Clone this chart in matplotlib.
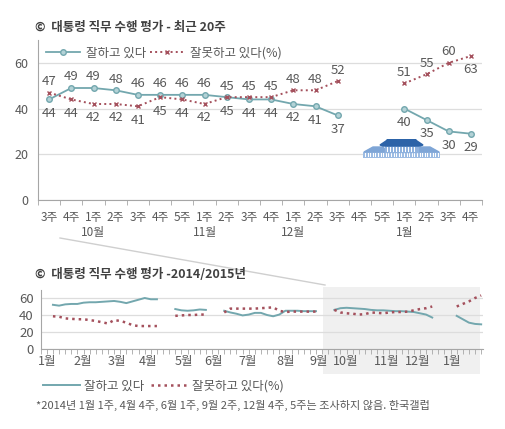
import numpy as np
import matplotlib
matplotlib.use('Agg')
import matplotlib.pyplot as plt
from matplotlib.patches import Polygon, Rectangle
from matplotlib.lines import Line2D

plt.rcParams['font.family'] = ['Noto Sans CJK KR', 'DejaVu Sans']

nan = np.nan

# 최근 20주
weeks = ['3주', '4주', '1주', '2주', '3주', '4주', '5주', '1주', '2주', '3주',
         '4주', '1주', '2주', '3주', '4주', '5주', '1주', '2주', '3주', '4주']
months_top = ['10월', '11월', '12월', '1월']
months_top_at = [2, 7, 11, 16]
good = [44, 49, 49, 48, 46, 46, 46, 46, 45, 44, 44, 42, 41, 37, nan, nan, 40, 35, 30, 29]
bad = [47, 44, 42, 42, 41, 45, 44, 42, 45, 45, 45, 48, 48, 52, nan, nan, 51, 55, 60, 63]
# 라벨 위치: 1 = 위, -1 = 아래
good_pos = [-1, 1, 1, 1, 1, 1, 1, 1, 1, -1, -1, -1, -1, -1, 0, 0, -1, -1, -1, -1]
bad_pos = [1, -1, -1, -1, -1, -1, -1, -1, -1, 1, 1, 1, 1, 1, 0, 0, 1, 1, 1, -1]

# 2014/2015 주간 (눈금 단위)
good_wk = [nan, nan,
           52, 51, 52.5, 53, 53, 54.5, 55, 55, 55.5, 56, 56.5, 55.5, 54, 56, 58, 60, 58.5, 58.5,
           nan, nan,
           47, 45.5, 45, 45.5, 46.5, 46,
           nan, nan,
           45, 43, 41.5, 39.5, 40.5, 42.5, 42.5, 40, 38.5, 40.5, 45, 45, 45, 44.5, 44.5, 44.5,
           nan, nan,
           46, 48, 48.5, 48, 47.5, 47, 46, 45.5, 45.5, 45, 44.5, 44.5, 44, 43.5, 42, 40.5, 37,
           nan, nan, nan,
           39, 35, 31, 29.5, 29]
bad_wk = [nan, nan,
          38.5, 38, 36, 35.5, 35, 35, 34, 33, 31.5, 30, 34, 33, 31, 28, 27, 27, 27, 27,
          nan, nan,
          39, 39.5, 40, 40, 40.5, 40.5,
          nan, nan,
          43, 47.5, 47.5, 47.5, 47.5, 47.5, 48, 48.5, 49, 45, 43.5, 44, 44, 44, 44, 44,
          nan, nan,
          46, 43, 42, 41.5, 40.5, 41, 43, 42.5, 42, 43, 43.5, 43.5, 44, 45.5, 47, 48, 50,
          nan, nan, nan,
          50, 53, 56, 60, 63]
months_bot = ['1월', '2월', '3월', '4월', '5월', '6월', '7월', '8월', '9월',
              '10월', '11월', '12월', '1월']
months_bot_at = [1.1, 6.8, 12.5, 17.5, 23.4, 28.3, 33.9, 40.1, 45.5, 49.9, 56.6, 61.6, 67.2]
shade_span = (46.2, 71.8)

TEAL = '#73A7AE'
RED = '#A4505C'
GRAY = '#595959'
GRID = '#DDDDDD'

W, H = 505, 429
fig = plt.figure(figsize=(W / 100, H / 100), dpi=100)


def fbox(x0, y0, x1, y1):
    return [x0 / W, 1 - y1 / H, (x1 - x0) / W, (y1 - y0) / H]


# ---------- 위 차트 ----------
ax = fig.add_axes(fbox(38, 40, 482, 200))
x = np.arange(len(weeks))
ax.plot(x, good, color=TEAL, lw=1.3, marker='o', ms=4, mfc='#B3D2D6', mec=TEAL,
        mew=1, label='잘하고 있다', zorder=3)
ax.plot(x, bad, color=RED, lw=1.4, ls=':', marker='x', ms=3.5, mew=1,
        label='잘못하고 있다(%)', zorder=3)
for i in range(len(weeks)):
    for vals, pos in ((good, good_pos), (bad, bad_pos)):
        v = vals[i]
        if np.isnan(v):
            continue
        off = 8 if pos[i] > 0 else -10
        ax.annotate(f'{v:.0f}', (i, v), xytext=(0, off), textcoords='offset points',
                    ha='center', va='center', fontsize=9.5, color=GRAY)
ax.set_xlim(-0.5, len(weeks) - 0.5)
ax.set_ylim(0, 70)
ax.set_yticks([0, 20, 40, 60])
ax.grid(axis='y', color=GRID, lw=0.9)
ax.set_axisbelow(True)
ax.set_xticks(x)
ax.set_xticklabels(weeks)
ax.set_xticks(np.arange(-0.5, len(weeks)), minor=True)
ax.tick_params(axis='x', which='major', length=0, pad=8, labelsize=8.5, labelcolor=GRAY)
ax.tick_params(axis='x', which='minor', length=3.5, color='#A6A6A6')
ax.tick_params(axis='y', length=0, pad=7, labelsize=9, labelcolor=GRAY)
for s in ['top', 'right']:
    ax.spines[s].set_visible(False)
for s in ['left', 'bottom']:
    ax.spines[s].set_color('#A6A6A6')
for m, p in zip(months_top, months_top_at):
    ax.text(p, -0.205, m, transform=ax.get_xaxis_transform(), ha='center', va='center',
            fontsize=8.5, color=GRAY)
fig.legend(handles=ax.get_lines(), loc='center left',
           bbox_to_anchor=(40 / W, 1 - 53 / H), ncol=2, frameon=False, fontsize=9,
           handlelength=2.7, handletextpad=0.5, columnspacing=0.3, borderpad=0,
           labelcolor=GRAY)
fig.text(35 / W, 1 - 27 / H, '©  대통령 직무 수행 평가 - 최근 20주', fontsize=9,
         fontweight='bold', color='#404040', va='center')

# 청와대 아이콘
ic = fig.add_axes(fbox(363, 139, 440, 158))
ic.set_xlim(0, 77)
ic.set_ylim(0, 19)
ic.axis('off')
ic.add_patch(Rectangle((0, 0), 77, 6, color='#9DBCE3'))
for cx in np.arange(2, 76, 2.6):
    ic.add_patch(Rectangle((cx, 1), 0.9, 4, color='white', lw=0))
ic.add_patch(Polygon([(1, 6), (10, 11), (20, 11), (24, 6)], color='#7EA5D6'))
ic.add_patch(Polygon([(53, 6), (57, 11), (67, 11), (76, 6)], color='#7EA5D6'))
ic.add_patch(Rectangle((22, 6), 33, 6, color='#8FB2DE'))
for cx in np.arange(24, 54, 3):
    ic.add_patch(Rectangle((cx, 6.5), 1, 4.5, color='white', lw=0))
ic.add_patch(Polygon([(17, 13), (20, 12), (57, 12), (60, 13), (54, 17), (52, 19),
                      (25, 19), (23, 17)], color='#2C63A8'))

# 연결선
fig.add_artist(Line2D([60 / W, 325 / W], [1 - 238 / H, 1 - 285 / H], color='#CFCFCF', lw=1))

# ---------- 아래 차트 ----------
bx = fig.add_axes(fbox(40.7, 289.5, 483, 349))
xw = np.arange(len(good_wk))
bx.axvspan(shade_span[0], shade_span[1], ymin=-0.42, ymax=1.04, color='#F0F0F0',
           clip_on=False, zorder=0, lw=0)
bx.plot(xw, good_wk, color=TEAL, lw=1.4, zorder=3, label='잘하고 있다')
bx.plot(xw, bad_wk, color=RED, lw=1.8, ls=(0, (1, 1.6)), zorder=3, label='잘못하고 있다(%)')
bx.set_xlim(0, 72.3)
bx.set_ylim(0, 70)
bx.set_yticks([0, 20, 40, 60])
bx.grid(axis='y', color=GRID, lw=0.9, zorder=1)
bx.set_axisbelow(True)
bx.set_xticks(months_bot_at)
bx.set_xticklabels(months_bot)
bx.set_xticks(np.arange(0, 73), minor=True)
bx.tick_params(axis='x', which='major', length=0, pad=4, labelsize=9, labelcolor=GRAY)
bx.tick_params(axis='x', which='minor', length=3.5, color='#A6A6A6')
bx.tick_params(axis='y', length=0, pad=5, labelsize=9.5, labelcolor=GRAY)
for s in ['top', 'right']:
    bx.spines[s].set_visible(False)
for s in ['left', 'bottom']:
    bx.spines[s].set_color('#A6A6A6')
fig.legend(handles=bx.get_lines(), loc='center left',
           bbox_to_anchor=(37 / W, 1 - 386 / H), ncol=2, frameon=False, fontsize=9,
           handlelength=2.9, handletextpad=0.4, columnspacing=0.5, borderpad=0,
           labelcolor=GRAY)
fig.text(35 / W, 1 - 275 / H, '©  대통령 직무 수행 평가 -2014/2015년', fontsize=9,
         fontweight='bold', color='#404040', va='center')
fig.text(36 / W, 1 - 405 / H,
         '*2014년 1월 1주, 4월 4주, 6월 1주, 9월 2주, 12월 4주, 5주는 조사하지 않음. 한국갤럽',
         fontsize=8, color=GRAY, va='center')

fig.savefig('out.png', dpi=100)
